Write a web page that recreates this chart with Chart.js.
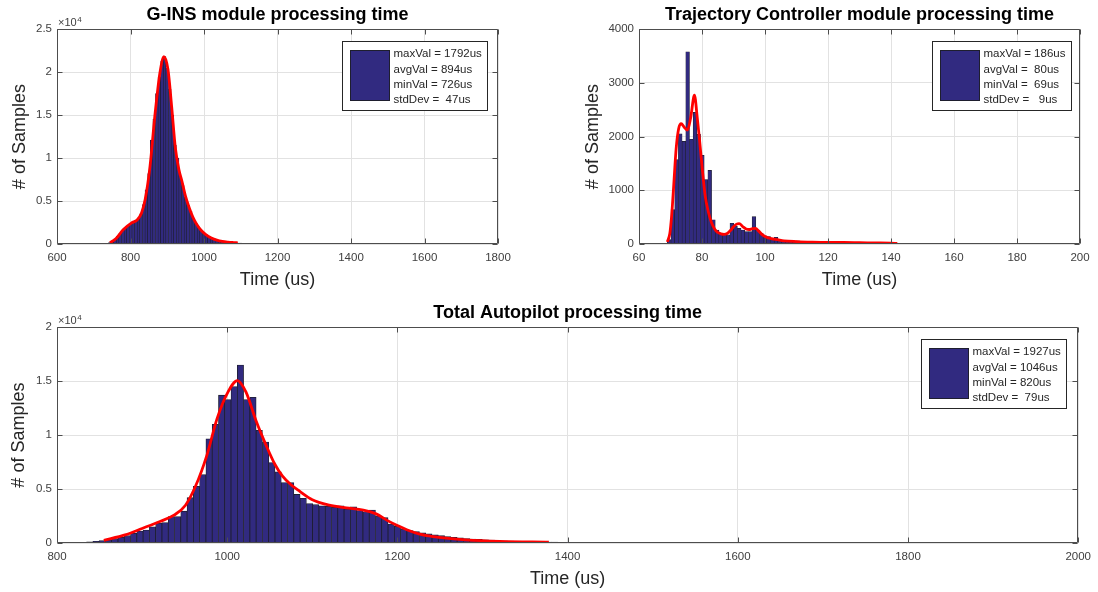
<!DOCTYPE html>
<html>
<head>
<meta charset="utf-8">
<title>Module processing time histograms</title>
<script src="https://cdn.jsdelivr.net/npm/chart.js@4.4.1/dist/chart.umd.min.js"></script>
<style>
  html, body { margin: 0; padding: 0; background: #fff; }
  body { width: 1098px; height: 592px; position: relative; overflow: hidden; }
  canvas { position: absolute; }
  #gins { left: 0; top: 0; }
  #traj { left: 560px; top: 0; }
  #total { left: 0; top: 295px; }
</style>
</head>
<body>
<canvas id="gins" width="530" height="295"></canvas>
<canvas id="traj" width="538" height="295"></canvas>
<canvas id="total" width="1098" height="297"></canvas>
<script>
// ===================
// Data
// ===================

// G-INS module: histogram bins start at minVal, ~7.1us wide
const ginsBinStart = 726;
const ginsBinWidth = 7.1;
const ginsCounts = [
  40, 80, 170, 350, 600, 900, 1250, 1600, 1900, 2100,
  2350, 2550, 2750, 3000, 3500, 4600, 6300, 8200, 12100, 14500,
  17500, 19500, 21300, 21800, 20500, 18000, 15000, 11500, 10000, 7900,
  6800, 5500, 4500, 3800, 3000, 2400, 2000, 1600, 1300, 1080,
  900, 720, 600, 470, 380, 310, 260, 230, 200, 175,
  150, 120, 95, 75, 60, 48, 38, 30, 25, 20,
  17, 14, 12, 10, 9, 8, 7, 6, 5, 5,
  4, 4, 3, 3, 3, 2, 2, 2, 2, 1
];
const ginsFitX = [744, 760, 780, 803, 818, 830, 840, 853, 866, 880, 891, 902, 912, 922, 932, 940, 950, 960, 970, 980, 992, 1005, 1020, 1035, 1050, 1065, 1080, 1092];
const ginsFitY = [150, 600, 1650, 2450, 2800, 3600, 5200, 9000, 14800, 19900, 21800, 20300, 16000, 11200, 8600, 7300, 5500, 4200, 3100, 2300, 1600, 1100, 700, 450, 300, 220, 170, 140];
const ginsStats = ['maxVal = 1792us', 'avgVal = 894us', 'minVal = 726us', 'stdDev =  47us'];

// Trajectory Controller module: bins ~1.17us wide
const trajBinStart = 69;
const trajBinWidth = 1.17;
const trajCounts = [
  80, 640, 1570, 2050, 1910, 3580, 1950, 2450, 2040, 1650,
  1200, 1370, 450, 260, 200, 200, 170, 385, 335, 290,
  260, 230, 230, 510, 260, 200, 150, 140, 100, 125,
  75, 60, 50, 45, 45, 60, 40, 35, 35, 30,
  30, 28, 25, 25, 22, 20, 20, 18, 18, 16,
  15, 14, 13, 12, 12, 11, 10, 10, 9, 9,
  8, 8, 7, 7, 7, 6, 6, 6, 5, 5,
  5, 5, 4, 4, 4, 4, 3, 3, 3, 3,
  3, 3, 2, 2, 2, 2, 2, 2, 2, 2,
  1, 1, 1, 1, 1, 1, 1, 1, 1, 1
];
const trajFitX = [69.0, 69.8, 70.4, 71.0, 71.8, 72.6, 73.4, 74.3, 75.4, 76.4, 77.6, 78.5, 79.2, 80.0, 81.0, 82.0, 83.0, 84.0, 85.0, 86.0, 87.0, 88.0, 89.0, 90.0, 91.0, 91.8, 93.0, 94.0, 95.0, 96.0, 97.0, 98.0, 99.0, 100, 102, 104, 106, 110, 115, 120, 125, 130, 135, 140, 142];
const trajFitY = [40, 200, 550, 1070, 1780, 2150, 2240, 2180, 2120, 2350, 2770, 2350, 1950, 1450, 900, 600, 400, 280, 215, 190, 180, 195, 250, 320, 370, 380, 320, 280, 270, 285, 290, 240, 180, 140, 100, 80, 60, 45, 35, 30, 30, 25, 20, 15, 12];
const trajStats = ['maxVal = 186us', 'avgVal =  80us', 'minVal =  69us', 'stdDev =   9us'];

// Total Autopilot: bins ~7.38us wide
const totalBinStart = 820;
const totalBinWidth = 7.38;
const totalCounts = [
  30, 60, 100, 150, 220, 300, 400, 530, 680, 900,
  1100, 1200, 1500, 1850, 1900, 2450, 2450, 2950, 4200, 5250,
  6350, 9650, 11000, 13700, 13300, 14500, 16500, 13300, 13500, 10450,
  9350, 7450, 6600, 5600, 5600, 4500, 4150, 3650, 3550, 3450,
  3400, 3300, 3450, 3150, 3350, 3000, 2900, 3050, 2500, 2350,
  1750, 1550, 1300, 1150, 1050, 950, 850, 760, 680, 600,
  530, 470, 420, 370, 330, 290, 260, 230, 200, 180,
  160, 140, 125, 110, 100, 90, 80, 70, 62, 55,
  50, 45, 40, 36, 33, 30, 27, 25, 23, 21,
  20, 18, 17, 16, 15, 14, 13, 12, 12, 11,
  10, 10, 9, 9, 8, 8, 8, 7, 7, 7,
  6, 6, 6, 6, 5, 5, 5, 5, 5, 4,
  4, 4, 4, 4, 4, 3, 3, 3, 3, 3,
  3, 3, 3, 2, 2, 2, 2, 2, 2, 2,
  2, 2, 2, 2, 1, 1, 1, 1, 1, 1
];
const totalFitX = [855, 880, 900, 921, 938, 951, 963, 976, 988, 1001, 1012, 1022, 1034, 1046, 1056, 1065, 1075, 1085, 1100, 1120, 1140, 1160, 1175, 1189, 1200, 1211, 1225, 1240, 1260, 1280, 1320, 1378];
const totalFitY = [250, 750, 1350, 2000, 2600, 3500, 5300, 8100, 11500, 14000, 15050, 14000, 11300, 9000, 7300, 6200, 5400, 4800, 4000, 3500, 3250, 3050, 2700, 2050, 1620, 1230, 850, 620, 420, 290, 150, 80];
const totalStats = ['maxVal = 1927us', 'avgVal = 1046us', 'minVal = 820us', 'stdDev =  79us'];

// ===================
// Styling
// ===================
const FONT = "'Liberation Sans', Arial, Helvetica, sans-serif";
const BAR_FILL = '#312a80';
const BAR_EDGE = '#1e1e2e';
const FIT_RED = '#ff0000';
const GRID_COLOR = '#e2e2e2';
const AXIS_COLOR = '#4d4d4d';
const TICK_COLOR = '#404040';
const LABEL_COLOR = '#262626';

function histPoints(start, width, counts) {
  return counts.map((c, i) => ({ x: start + (i + 0.5) * width, y: c }));
}
function fitPoints(xs, ys) {
  return xs.map((x, i) => ({ x: x, y: ys[i] }));
}

// ===================
// MATLAB-ish box, inward ticks, exponent and stats legend
// ===================
const matlabAxes = {
  id: 'matlabAxes',
  afterDraw(chart, args, opts) {
    const { ctx, chartArea: a, scales } = chart;
    const l = Math.round(a.left) + 0.5, r = Math.round(a.right) - 0.5;
    const t = Math.round(a.top) + 0.5, b = Math.round(a.bottom) - 0.5;
    ctx.save();
    ctx.strokeStyle = AXIS_COLOR;
    ctx.lineWidth = 1;
    ctx.beginPath();
    ctx.rect(l, t, r - l, b - t);
    scales.x.ticks.forEach(tk => {
      const px = Math.round(scales.x.getPixelForValue(tk.value)) + 0.5;
      ctx.moveTo(px, b); ctx.lineTo(px, b - 5);
      ctx.moveTo(px, t); ctx.lineTo(px, t + 5);
    });
    scales.y.ticks.forEach(tk => {
      const py = Math.round(scales.y.getPixelForValue(tk.value)) + 0.5;
      ctx.moveTo(l, py); ctx.lineTo(l + 5, py);
      ctx.moveTo(r, py); ctx.lineTo(r - 5, py);
    });
    ctx.stroke();

    // x10^n above the y axis
    if (opts.exponent) {
      ctx.fillStyle = TICK_COLOR;
      ctx.textAlign = 'left';
      ctx.textBaseline = 'alphabetic';
      ctx.font = '11px ' + FONT;
      const y0 = a.top - 3;
      ctx.fillText('\u00d710', a.left + 1, y0);
      const w = ctx.measureText('\u00d710').width;
      ctx.font = '8px ' + FONT;
      ctx.fillText(opts.exponent, a.left + 1 + w + 0.5, y0 - 4);
    }

    // stats legend
    if (opts.lines) {
      ctx.font = '11.5px ' + FONT;
      const textW = Math.max(...opts.lines.map(s => ctx.measureText(s).width));
      const boxW = Math.round(8 + 39 + 4 + textW + 6), boxH = 69;
      const bx = Math.round(a.right - opts.inset - boxW) + 0.5;
      const by = Math.round(a.top + 12) + 0.5;
      ctx.fillStyle = '#fff';
      ctx.fillRect(bx, by, boxW, boxH);
      ctx.strokeStyle = LABEL_COLOR;
      ctx.strokeRect(bx, by, boxW, boxH);
      ctx.fillStyle = BAR_FILL;
      ctx.fillRect(bx + 8, by + 9, 39, 50);
      ctx.strokeStyle = BAR_EDGE;
      ctx.strokeRect(bx + 8, by + 9, 39, 50);
      ctx.fillStyle = LABEL_COLOR;
      ctx.textBaseline = 'middle';
      opts.lines.forEach((s, i) => ctx.fillText(s, bx + 51, by + 12.5 + i * 15.4));
    }
    ctx.restore();
  }
};

// ===================
// Chart builder
// ===================
function buildHistogram(id, o) {
  return new Chart(document.getElementById(id), {
    data: {
      datasets: [
        {
          type: 'line',
          data: o.fit,
          borderColor: FIT_RED,
          borderWidth: 2.8,
          pointRadius: 0,
          cubicInterpolationMode: 'monotone',
          order: 0
        },
        {
          type: 'bar',
          data: o.bars,
          backgroundColor: BAR_FILL,
          borderColor: BAR_EDGE,
          borderWidth: o.edge,
          barPercentage: 1,
          categoryPercentage: 1,
          order: 1
        }
      ]
    },
    options: {
      responsive: false,
      animation: false,
      events: [],
      layout: { padding: { left: 0, right: o.padRight, top: 0, bottom: 0 } },
      plugins: {
        legend: { display: false },
        tooltip: { enabled: false },
        title: {
          display: true,
          text: o.title,
          fullSize: false,
          color: '#000',
          font: { family: FONT, size: 18, weight: 'bold' },
          padding: o.titlePad
        },
        matlabAxes: { lines: o.stats, exponent: o.exponent, inset: o.inset }
      },
      scales: {
        x: {
          type: 'linear',
          min: o.xMin, max: o.xMax,
          offset: false,
          grid: { color: GRID_COLOR, drawTicks: false, offset: false },
          border: { display: false },
          ticks: {
            stepSize: o.xStep, color: TICK_COLOR, font: { family: FONT, size: 11.5 }, padding: 7,
            maxRotation: 0, autoSkip: false,
            callback: v => String(v)
          },
          title: { display: true, text: 'Time (us)', color: LABEL_COLOR, font: { family: FONT, size: 18 }, padding: { top: 0, bottom: o.xTitlePad } },
          afterFit: s => { s.height = o.xHeight; }
        },
        y: {
          min: 0, max: o.yMax,
          grid: { color: GRID_COLOR, drawTicks: false },
          border: { display: false },
          ticks: {
            stepSize: o.yStep, color: TICK_COLOR, font: { family: FONT, size: 11.5 }, padding: 5,
            callback: v => o.yDiv ? String(v / o.yDiv) : String(v)
          },
          title: { display: true, text: '# of Samples', color: LABEL_COLOR, font: { family: FONT, size: 18 }, padding: { top: o.yTitlePad, bottom: 0 } },
          afterFit: s => { s.width = o.yWidth; }
        }
      }
    },
    plugins: [matlabAxes]
  });
}

// ===================
// Charts
// ===================
buildHistogram('gins', {
  title: 'G-INS module processing time',
  bars: histPoints(ginsBinStart, ginsBinWidth, ginsCounts),
  fit: fitPoints(ginsFitX, ginsFitY),
  stats: ginsStats,
  exponent: '4',
  inset: 11, edge: 0.6,
  xMin: 600, xMax: 1800, xStep: 200,
  yMax: 25000, yStep: 5000, yDiv: 10000,
  padRight: 32, titlePad: { top: 4, bottom: 3.6 },
  xHeight: 51, xTitlePad: 4,
  yWidth: 57, yTitlePad: 9
});

buildHistogram('traj', {
  title: 'Trajectory Controller module processing time',
  bars: histPoints(trajBinStart, trajBinWidth, trajCounts),
  fit: fitPoints(trajFitX, trajFitY),
  stats: trajStats,
  exponent: null,
  inset: 9, edge: 0.6,
  xMin: 60, xMax: 200, xStep: 20,
  yMax: 4000, yStep: 1000, yDiv: null,
  padRight: 18, titlePad: { top: 4, bottom: 3.6 },
  xHeight: 51, xTitlePad: 4,
  yWidth: 79, yTitlePad: 22
});

buildHistogram('total', {
  title: 'Total Autopilot processing time',
  bars: histPoints(totalBinStart, totalBinWidth, totalCounts),
  fit: fitPoints(totalFitX, totalFitY),
  stats: totalStats,
  exponent: '4',
  inset: 12, edge: 0.8,
  xMin: 800, xMax: 2000, xStep: 200,
  yMax: 20000, yStep: 5000, yDiv: 10000,
  padRight: 17, titlePad: { top: 7.2, bottom: 3.4 },
  xHeight: 49, xTitlePad: 2,
  yWidth: 57, yTitlePad: 8
});
</script>
</body>
</html>
